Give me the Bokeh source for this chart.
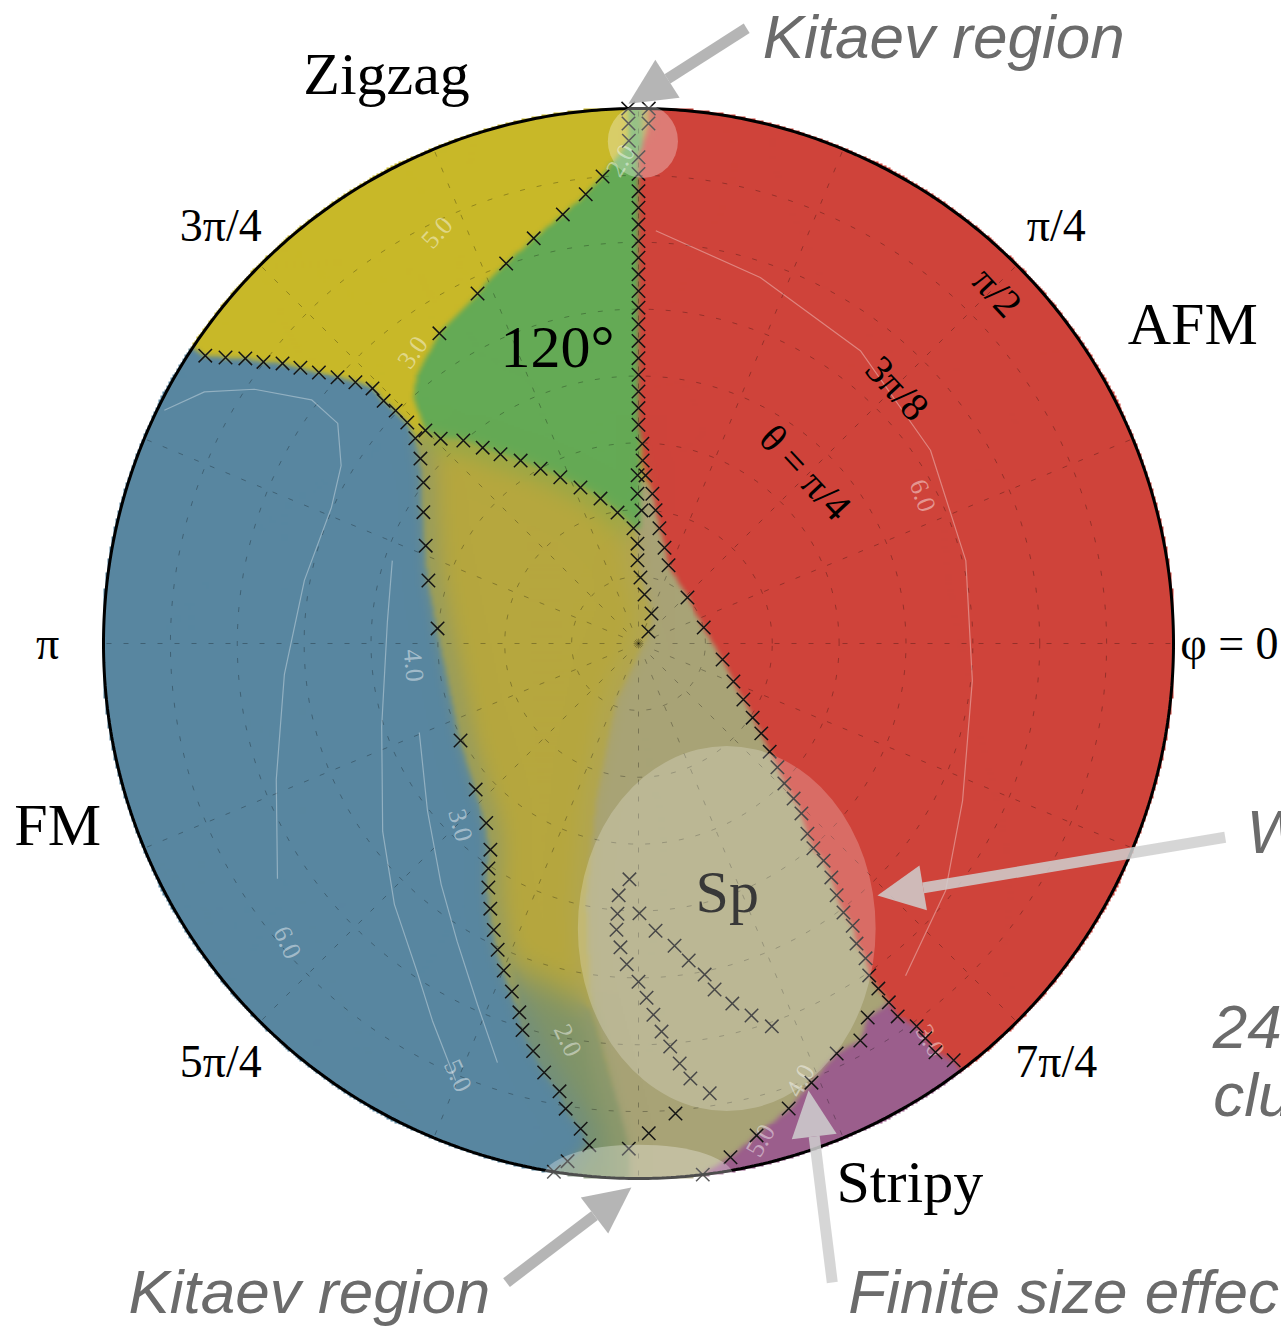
import numpy as np
from bokeh.plotting import figure
from bokeh.models import Range1d
from bokeh.core.properties import value
from bokeh.embed import file_html
from bokeh.resources import INLINE

# Phase diagram on the (phi, theta) disc.  All angles in degrees:
# theta runs from 0 at the centre to 90 (= pi/2) at the rim, phi is the polar angle.

# ---------------------------------------------------------------- phase boundaries
# AFM boundary: rim at phi ~ pi/2, down the pi/2 line, round the centre, out to the rim near 7pi/4
afm_theta = [90.0, 87.5, 81.8, 79.0, 76.1, 73.3, 70.5, 67.7, 64.9, 62.1, 59.3, 56.5,
             53.7, 50.9, 48.0, 45.2, 42.4, 39.6, 36.8, 33.6, 30.8, 28.3, 25.3, 22.6,
             19.7, 16.7, 14.1, 11.3, 11.3, 14.4, 17.2, 20.0, 22.9, 25.6, 28.6, 31.3,
             34.0, 36.9, 39.6, 42.8, 45.3, 48.0, 51.0, 53.9, 56.9, 59.6, 62.4, 65.3,
             68.0, 70.7, 73.6, 76.4, 79.6, 82.1, 85.0, 87.9]
afm_phi = [88.9, 88.9, 90.0, 90.0, 90.0, 90.0, 90.0, 90.0, 90.0, 90.0, 90.0, 90.0,
           90.0, 90.0, 90.0, 90.0, 90.0, 90.0, 90.0, 88.9, 88.7, 87.6, 84.7, 82.7,
           79.7, 74.8, 69.0, 43.2, 13.8, -10.8, -21.8, -28.1, -33.0, -36.2, -39.5, -41.7,
           -43.8, -45.0, -46.2, -48.4, -49.5, -49.55, -50.5, -51.8, -52.7, -52.8, -54.0, -54.2,
           -55.2, -55.2, -55.1, -55.2, -54.0, -54.0, -54.0, -52.9]

# zigzag / 120 degree boundary, from the rim inwards
zz120_theta = [90.0, 87.5, 84.6, 78.8, 76.1, 73.3, 70.4, 67.7, 64.8, 62.0]
zz120_phi = [91.1, 91.1, 91.1, 94.4, 96.7, 100.0, 104.5, 109.2, 114.7, 122.7]

# FM boundary: from the rim near 3pi/4, round the FM domain, to the rim near 3pi/2
fm_theta = [87.5, 84.5, 81.7, 78.9, 76.2, 73.4, 70.5, 67.6, 64.8, 62.0,
            59.2, 56.6, 53.8, 51.0, 48.1, 45.2, 42.4, 39.4, 36.9, 33.9,
            34.1, 36.8, 39.6, 42.7, 45.5, 48.2, 51.1, 54.0, 56.7, 59.5,
            62.3, 65.2, 67.9, 70.8, 73.9, 76.5, 79.2, 82.2, 84.8, 87.9, 90.0]
fm_phi = [146.4, 145.3, 144.05, 143.1, 141.8, 140.8, 139.7, 138.5, 137.3, 136.2,
          136.4, 136.2, 136.3, 137.4, 139.7, 143.2, 148.6, 155.3, 163.3, 175.7,
          208.6, 221.9, 229.7, 234.3, 236.3, 238.4, 240.8, 243.2, 245.3, 247.6,
          250.0, 252.1, 253.3, 255.5, 257.6, 260.0, 261.1, 263.2, 264.4, 262.2, 260.9]

# lower edge of the 120 degree phase
p120_theta = [50.7, 47.9, 45.1, 42.1, 39.4, 36.6, 33.7, 30.9, 28.0, 25.2, 22.3]
p120_phi = [135.0, 134.0, 130.8, 128.5, 126.1, 122.8, 119.25, 115.2, 110.4, 104.7, 99.1]

# inner line below the 120 degree phase, running into the centre
inner_theta = [28.3, 25.2, 22.4, 19.4, 16.8, 14.0, 11.1, 8.3, 5.5, 2.6]
inner_phi = [90.3, 90.4, 88.7, 92.5, 90.6, 90.7, 88.3, 83.0, 66.6, 50.2]

# stripy boundary
stripy_theta = [73.8, 76.5, 76.6, 79.4, 82.2, 85.1, 87.8, 90.0]
stripy_phi = [-58.5, -60.8, -64.2, -68.5, -72.1, -76.5, -79.85, -83.1]

# lines inside the Sp domain
spa_theta = [39.7, 42.5, 45.6, 48.3, 51.2, 54.0, 56.9, 59.6, 62.5, 65.4, 68.0, 71.0,
             73.7, 76.6, 79.3, 82.4, 85.0]
spa_phi = [267.8, 265.5, 265.55, 265.6, 266.6, 267.9, 270.0, 271.3, 272.3, 273.4, 274.5,
           275.6, 276.8, 279.0, 274.5, 271.2, 268.9]
spb_theta = [45.4, 48.4, 51.2, 54.0, 56.8, 59.6, 62.6, 65.4, 68.2]
spb_phi = [270.2, 273.4, 276.8, 279.0, 281.3, 282.4, 284.6, 286.9, 289.2]

# unmarked (soft) domain edges
edge120_theta = [56.1, 58.7]
edge120_phi = [132.45, 129.3]
edgesp_theta = [10.3, 27.4, 44.1, 60.6, 85.0]
edgesp_phi = [248.0, 254.7, 258.3, 262.3, 268.9]
mixed_theta = [58.0, 62.0, 85.0, 100.0, 100.0, 75.0]
mixed_phi = [249.0, 262.5, 269.0, 269.0, 256.0, 256.0]

# contour lines of the gap and their labels
c6_theta = [88.9, 84.4, 77.5, 68.6, 62.7, 58.3, 56.5, 57.2, 59.8, 65.1, 72.5]
c6_phi = [153.8, 149.9, 146.5, 143.3, 143.8, 149.1, 156.1, 169.3, 185.0, 200.6, 213.1]
c5_theta = [43.7, 42.4, 45.4, 53.4, 60.1, 66.7, 72.3, 79.7]
c5_phi = [161.4, 175.2, 197.9, 216.3, 226.9, 236.1, 241.35, 247.3]
c3_theta = [39.8, 45.3, 52.4, 58.7, 66.5, 74.4]
c3_phi = [202.1, 218.4, 230.7, 238.7, 245.96, 251.4]
cr_theta = [69.5, 64.9, 61.8, 58.9, 56.8, 56.5, 60.6, 66.3, 71.7]
cr_phi = [87.6, 71.6, 52.85, 33.5, 14.2, -6.3, -25.9, -38.8, -51.2]
clabel_text = ["6.0", "5.0", "3.0", "4.0", "2.0", "6.0", "5.0", "3.0", "2.0", "5.0", "4.0", "3.0"]
clabel_theta = [77.6, 78.8, 42.8, 38.0, 67.8, 53.9, 77.0, 62.0, 81.3, 86.1, 78.4, 82.9]
clabel_phi = [220.4, 247.3, 225.6, 185.6, 259.9, 27.5, 116.1, 127.8, 92.1, -76.2, -69.7, -53.7]
clabel_rot = [-65, -65, -75, -85, -65, -70, 48, 55, 60, 60, 60, -60]

# highlighted regions (centre theta, phi; size in theta units)
hl_theta = [84.5, 50.2, 89.7]
hl_phi = [89.5, 287.2, 270.0]
hl_w = [11.8, 50.1, 32.0]
hl_h = [12.4, 61.4, 10.8]
hl_alpha = [0.30, 0.22, 0.30]

# axis labels
phi_ticks = [0, 45, 135, 180, 225, 315]
phi_tick_text = ["φ = 0", "π/4", "3π/4", "π", "5π/4", "7π/4"]
ring_text = ["θ = π/4", "3π/8", "π/2"]
ring_label_theta = [40.2, 61.2, 84.5]
ring_label_phi = [45.7, 44.6, 44.4]

phase_names = ["Zigzag", "AFM", "FM", "Stripy", "120°"]

# ---------------------------------------------------------------- helpers
RIM = 90.0
R_OUT = 100.0
U = RIM / 535.0  # data units per screen pixel


def to_xy(theta, phi):
    t = np.asarray(theta, float)
    f = np.radians(np.asarray(phi, float))
    return t * np.cos(f), t * np.sin(f)


def rim(f0, f1, n=60):
    return [R_OUT] * n, list(np.linspace(f0, f1, n))


def outline(*parts):
    th, ph = [], []
    for t, f in parts:
        th += list(t)
        ph += list(f)
    return to_xy(th, ph)


def inside(px, py, vx, vy):
    res = np.zeros(px.shape, bool)
    for i in range(len(vx)):
        x1, y1, x2, y2 = vx[i - 1], vy[i - 1], vx[i], vy[i]
        if y1 == y2:
            continue
        cross = (y1 > py) != (y2 > py)
        xint = x1 + (py - y1) * (x2 - x1) / (y2 - y1)
        res ^= cross & (px < xint)
    return res


def blur(a, r, passes=3):
    a = a.astype(float)
    for _ in range(passes):
        for ax in (0, 1):
            b = np.moveaxis(a, ax, 0)
            pad = np.concatenate([np.repeat(b[:1], r + 1, 0), b, np.repeat(b[-1:], r, 0)], 0)
            c = np.cumsum(pad, 0)
            b = (c[2 * r + 1:] - c[:-2 * r - 1]) / (2 * r + 1)
            a = np.moveaxis(b, 0, ax)
    return a


def base(y, size_px):
    # shift so that the given y is where the letters sit
    return [v + 0.39 * size_px * U for v in y]


# ---------------------------------------------------------------- domains
rev = lambda a: list(a)[::-1]
regions = [
    # 1: mixed region near the bottom
    outline((mixed_theta, mixed_phi)),
    # 2: Sp
    outline((inner_theta, inner_phi), (edgesp_theta, edgesp_phi), rim(268.9, 300.0),
            ([60.0, 20.0], [-40.0, 60.0])),
    # 3: FM
    outline((fm_theta, fm_phi), rim(260.9, 146.4)),
    # 4: zigzag (upper)
    outline(rim(91.1, 146.4), (fm_theta[:14], fm_phi[:14]), (p120_theta[:1], p120_phi[:1]),
            (edge120_theta, edge120_phi), (rev(zz120_theta), rev(zz120_phi))),
    # 5: 120 degree
    outline((zz120_theta, zz120_phi), (rev(edge120_theta), rev(edge120_phi)),
            (p120_theta, p120_phi), (inner_theta[3:4], inner_phi[3:4]),
            ([19.4, R_OUT], [89.5, 89.5])),
    # 6: AFM
    outline((afm_theta, afm_phi), rim(-52.9, 88.9)),
    # 7: stripy
    outline((stripy_theta, stripy_phi), rim(-83.1, -52.9),
            (rev(afm_theta[-6:]), rev(afm_phi[-6:]))),
]
palette = np.array([
    [182, 167, 62],   # lower zigzag
    [128, 148, 104],  # mixed
    [168, 163, 118],  # Sp
    [88, 134, 160],   # FM
    [200, 184, 40],   # zigzag
    [100, 170, 85],   # 120 degree
    [207, 67, 58],    # AFM
    [155, 94, 140],   # stripy
], float)

N = 540
g = (np.arange(N) + 0.5) / N * 2 * RIM - RIM
GX, GY = np.meshgrid(g, g)
label = np.zeros((N, N), int)
for k, (vx, vy) in enumerate(regions, start=1):
    label[inside(GX, GY, vx, vy)] = k

rgb = palette[label]
sharp = blur(rgb, 1, 2)
soft = blur(rgb, 7, 3)
w = np.clip(blur(np.isin(label, [0, 1]).astype(float), 4, 3), 0, 1)[..., None]
col = sharp * (1 - w) + soft * w
rgba = np.zeros((N, N, 4), np.uint8)
rgba[..., :3] = np.clip(col, 0, 255).astype(np.uint8)
rgba[..., 3] = np.where(np.hypot(GX, GY) <= RIM + 0.3, 255, 0).astype(np.uint8)
img = rgba.view(np.uint32).reshape(N, N)

# ---------------------------------------------------------------- figure
W, H = 1281, 1327
CX, CY = 638, 643
p = figure(width=W, height=H, output_backend="svg", toolbar_location=None,
           x_range=Range1d(-CX * U, (W - CX) * U), y_range=Range1d(-(H - CY) * U, CY * U),
           x_axis_location=None, y_axis_location=None, min_border=0)
p.grid.visible = False
p.outline_line_color = None
p.background_fill_color = "white"
p.border_fill_color = "white"

p.image_rgba(image=[img], x=-RIM, y=-RIM, dw=2 * RIM, dh=2 * RIM)

# dashed polar grid
grid_xs, grid_ys = [], []
for t in [11.25, 22.5, 33.75, 45.0, 56.25, 67.5, 78.75]:
    gx, gy = to_xy([t] * 181, np.linspace(0, 360, 181))
    grid_xs.append(list(gx)); grid_ys.append(list(gy))
for f in np.arange(0, 360, 22.5):
    gx, gy = to_xy([0, RIM], [f, f])
    grid_xs.append(list(gx)); grid_ys.append(list(gy))
p.multi_line(grid_xs, grid_ys, line_color="black", line_alpha=0.28, line_width=1,
             line_dash="5 12")

# contours
cxs, cys = [], []
for t, f in [(c6_theta, c6_phi), (c5_theta, c5_phi), (c3_theta, c3_phi), (cr_theta, cr_phi)]:
    gx, gy = to_xy(t, f)
    cxs.append(list(gx)); cys.append(list(gy))
p.multi_line(cxs, cys, line_color="white", line_alpha=0.35, line_width=1.2)
lx, ly = to_xy(clabel_theta, clabel_phi)
p.text(x=lx, y=ly, text=clabel_text, angle=list(np.radians(clabel_rot)),
       text_font=value("Liberation Serif"), text_font_size="26px", text_color="white",
       text_alpha=0.45, text_align="center", text_baseline="middle")

# boundary markers
mk_t = afm_theta + zz120_theta + fm_theta + p120_theta + inner_theta + stripy_theta + spa_theta + spb_theta
mk_f = afm_phi + zz120_phi + fm_phi + p120_phi + inner_phi + stripy_phi + spa_phi + spb_phi
mx, my = to_xy(mk_t, mk_f)
p.scatter(mx, my, marker="x", size=19, line_color="#141414", line_width=1.5)

p.text(x=[9.6], y=base([-45.8], 60), text=["Sp"], text_font=value("Liberation Serif"),
       text_font_size="60px", text_color="black", text_align="left",
       text_baseline="alphabetic")

# rim
ox, oy = to_xy([RIM] * 721, np.linspace(0, 360, 721))
p.line(ox, oy, line_color="black", line_width=3)

# highlights
hx, hy = to_xy(hl_theta, hl_phi)
p.ellipse(x=hx, y=hy, width=hl_w, height=hl_h, fill_color="white", fill_alpha=hl_alpha,
          line_alpha=0)

# phi tick labels
tx, ty = to_xy([99.4] * len(phi_ticks), phi_ticks)
p.text(x=tx, y=ty, text=phi_tick_text, text_font=value("Liberation Serif"),
       text_font_size="46px", text_color="black", text_align="center", text_baseline="middle")

# theta ring labels
rx, ry = to_xy(ring_label_theta, ring_label_phi)
p.text(x=rx, y=ry, text=ring_text, angle=np.radians(-47), text_font=value("Liberation Serif"),
       text_font_size="40px", text_color="black", text_align="center", text_baseline="middle")

# phase names
p.text(x=[-56.4, 82.3, -105.0, 33.3, -23.2], y=base([91.8, 49.8, -34.5, -94.5, 45.9], 60),
       text=phase_names, text_font=value("Liberation Serif"), text_font_size="60px",
       text_color="black", text_align="left", text_baseline="alphabetic")


# call-out arrows
def arrow(x0, y0, x1, y1, color, alpha=0.85, head_len=7.8, head_w=7.6, width=11):
    dx, dy = x1 - x0, y1 - y0
    L = np.hypot(dx, dy)
    ux, uy = dx / L, dy / L
    bx, by = x1 - ux * head_len, y1 - uy * head_len
    p.segment(x0=[x0], y0=[y0], x1=[bx], y1=[by], line_color=color, line_alpha=alpha,
              line_width=width)
    nx, ny = -uy * head_w / 2, ux * head_w / 2
    p.patch([x1, bx + nx, bx - nx], [y1, by + ny, by - ny], fill_color=color,
            fill_alpha=alpha, line_alpha=0)


arrow(18.2, 103.5, -1.7, 90.8, "#A8A8A8")
arrow(-22.2, -107.5, -1.2, -91.5, "#A8A8A8")
arrow(98.7, -32.6, 40.2, -42.4, "#CFCFCF")
arrow(32.6, -107.5, 28.6, -75.2, "#CFCFCF")

p.text(x=[20.9, -85.8, 102.3, 96.6, 96.7, 35.3],
       y=base([98.1, -113.0, -35.7, -68.5, -79.9, -113.0], 62),
       text=["Kitaev region", "Kitaev region", "W", "24", "cluster", "Finite size effects"],
       text_font=value("Liberation Sans"), text_font_style="italic", text_font_size="62px",
       text_color="#6B6B6B", text_align="left", text_baseline="alphabetic")

open("out.html", "w").write(file_html(p, INLINE))
